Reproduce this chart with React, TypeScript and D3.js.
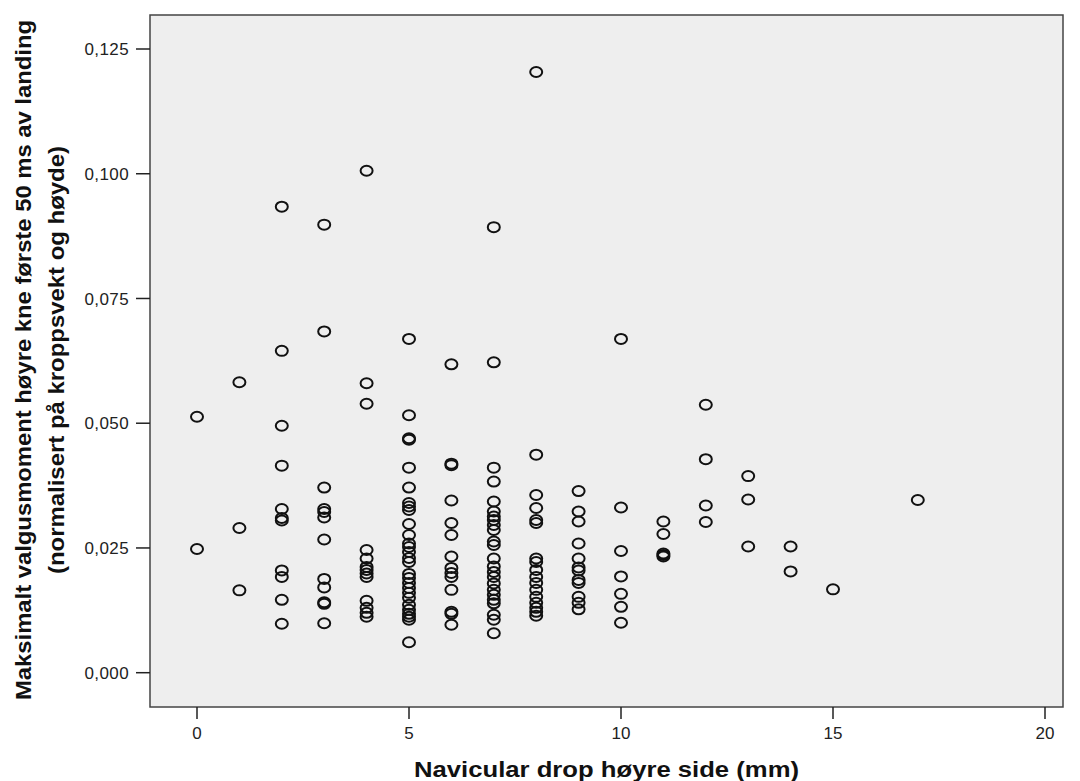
import React from "react";
import * as d3 from "d3";

// navicular drop (mm), one entry per column of points
const dropMm = [0, 1, 2, 3, 4, 5, 6, 7, 8, 9, 10, 11, 12, 13, 14, 15, 17];

// peak valgus moment (normalised)
const momentByDrop = [
  [0.0513, 0.0248],
  [0.0582, 0.029, 0.0165],
  [0.0934, 0.0645, 0.0495, 0.0415, 0.0328, 0.031, 0.0305, 0.0205, 0.0192, 0.0146, 0.0098],
  [0.0898, 0.0684, 0.0371, 0.0328, 0.0322, 0.0311, 0.0267, 0.0188, 0.0171, 0.0141, 0.0138, 0.0099],
  [0.1006, 0.058, 0.0539, 0.0246, 0.0229, 0.0212, 0.0206, 0.0199, 0.0192, 0.0144, 0.013, 0.012, 0.0112],
  [0.0669, 0.0516, 0.047, 0.0467, 0.0411, 0.0371, 0.034, 0.0333, 0.0326, 0.0298, 0.0276, 0.0259, 0.0252,
    0.0242, 0.023, 0.0222, 0.0198, 0.019, 0.018, 0.017, 0.016, 0.015, 0.0136, 0.0126, 0.0118, 0.0112, 0.0106, 0.0061],
  [0.0618, 0.0419, 0.0416, 0.0345, 0.03, 0.0276, 0.0233, 0.021, 0.02, 0.0192, 0.0166, 0.0122, 0.0118, 0.0096],
  [0.0893, 0.0622, 0.0411, 0.0383, 0.0343, 0.0323, 0.0313, 0.0306, 0.0296, 0.0286, 0.0263, 0.0256, 0.0229,
    0.0213, 0.0202, 0.0192, 0.0179, 0.0166, 0.0156, 0.0146, 0.0139, 0.0116, 0.0106, 0.0079],
  [0.1204, 0.0437, 0.0356, 0.033, 0.0306, 0.03, 0.0229, 0.0222, 0.0206, 0.0192, 0.018, 0.0166, 0.0152,
    0.014, 0.013, 0.0122, 0.0114],
  [0.0364, 0.0323, 0.0303, 0.0259, 0.0229, 0.0211, 0.0205, 0.0186, 0.018, 0.0152, 0.014, 0.0127],
  [0.0669, 0.0331, 0.0244, 0.0193, 0.0158, 0.0132, 0.01],
  [0.0303, 0.0278, 0.0239, 0.0236, 0.0233],
  [0.0537, 0.0428, 0.0335, 0.0302],
  [0.0394, 0.0347, 0.0253],
  [0.0253, 0.0203],
  [0.0167],
  [0.0346],
];

const xTicks = [0, 5, 10, 15, 20];
const yTicks = [0, 0.025, 0.05, 0.075, 0.1, 0.125];

const xTitle = "Navicular drop høyre side (mm)";
const yTitle = [
  "Maksimalt valgusmoment høyre kne første 50 ms av landing",
  "(normalisert på kroppsvekt og høyde)",
];

const W = 1080;
const H = 781;
const frame = { left: 150, top: 15, right: 1063, bottom: 707 };
const font = "'Liberation Sans', Arial, sans-serif";
const yTitleLen = [680, 428];

export default function App() {
  const x = d3.scaleLinear().domain([0, 20]).range([197, 1045]);
  const y = d3.scaleLinear().domain([0, 0.125]).range([672.7, 49]);
  const fmt = (v: number) => d3.format(".3f")(v).replace(".", ",");

  const points = dropMm.flatMap((d, i) => momentByDrop[i].map((m) => ({ d, m })));
  const midY = (frame.top + frame.bottom) / 2;
  const midX = (frame.left + frame.right) / 2;

  return (
    <svg
      width={W}
      height={H}
      style={{ position: "absolute", left: 0, top: 0, background: "#fff" }}
      fontFamily={font}
    >
      <rect
        x={frame.left}
        y={frame.top}
        width={frame.right - frame.left}
        height={frame.bottom - frame.top}
        fill="#eeeeee"
        stroke="#444"
        strokeWidth={1.5}
      />

      {/* y axis */}
      {yTicks.map((t) => (
        <g key={t} transform={`translate(0, ${y(t)})`}>
          <line x1={frame.left - 14} x2={frame.left} stroke="#222" strokeWidth={1.5} />
          <text x={frame.left - 21} dy="0.36em" textAnchor="end" fontSize={17} letterSpacing={0.4} fill="#222">
            {fmt(t)}
          </text>
        </g>
      ))}

      {/* x axis */}
      {xTicks.map((t) => (
        <g key={t} transform={`translate(${x(t)}, 0)`}>
          <line y1={frame.bottom} y2={frame.bottom + 12} stroke="#222" strokeWidth={1.5} />
          <text y={frame.bottom + 32} textAnchor="middle" fontSize={17} fill="#222">
            {t}
          </text>
        </g>
      ))}

      {points.map((p, i) => (
        <ellipse
          key={i}
          cx={x(p.d)}
          cy={y(p.m)}
          rx={6}
          ry={5}
          fill="none"
          stroke="#111"
          strokeWidth={2}
        />
      ))}

      <text
        x={midX}
        y={777}
        textAnchor="middle"
        fontSize={22}
        fontWeight="bold"
        textLength={385}
        lengthAdjust="spacingAndGlyphs"
        fill="#111"
      >
        {xTitle}
      </text>
      {yTitle.map((line, i) => (
        <text
          key={i}
          transform={`translate(${31 + i * 33}, ${midY - 1}) rotate(-90)`}
          textAnchor="middle"
          fontSize={22}
          fontWeight="bold"
          textLength={yTitleLen[i]}
          lengthAdjust="spacingAndGlyphs"
          fill="#111"
        >
          {line}
        </text>
      ))}
    </svg>
  );
}
